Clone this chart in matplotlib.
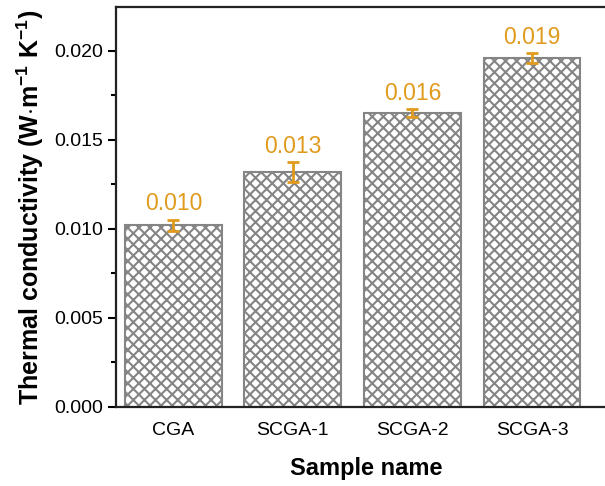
import matplotlib
matplotlib.use('Agg')
import matplotlib.pyplot as plt
from matplotlib.ticker import MultipleLocator, FormatStrFormatter

plt.rcParams['font.family'] = ['Liberation Sans', 'DejaVu Sans']
plt.rcParams['mathtext.fontset'] = 'custom'
plt.rcParams['mathtext.rm'] = 'Liberation Sans:bold'
plt.rcParams['mathtext.bf'] = 'Liberation Sans:bold'
plt.rcParams['mathtext.it'] = 'Liberation Sans:bold'
plt.rcParams['hatch.linewidth'] = 1.5

samples = ['CGA', 'SCGA-1', 'SCGA-2', 'SCGA-3']
conductivity = [0.0102, 0.0132, 0.0165, 0.0196]
errors = [0.00033, 0.00055, 0.00022, 0.00030]
value_labels = ['0.010', '0.013', '0.016', '0.019']

ORANGE = '#E09A1C'
GRAY = '#858585'

fig = plt.figure(figsize=(6.05, 4.86), dpi=100)
ax = fig.add_axes([0.1917, 0.1626, 0.826, 0.823])

x = range(len(samples))
ax.bar(x, conductivity, width=0.81, color='white', edgecolor=GRAY,
       linewidth=1.5, hatch='xxx', zorder=2)
ax.errorbar(x, conductivity, yerr=errors, fmt='none', ecolor=ORANGE,
            elinewidth=2, capsize=4, capthick=2, zorder=3)
for xi, v, e, lab in zip(x, conductivity, errors, value_labels):
    ax.annotate(lab, (xi, v + e), xytext=(0, 3), textcoords='offset points',
                ha='center', va='bottom', color=ORANGE, fontsize=16.5)

ax.set_xlim(-0.48, 3.7)
ax.set_ylim(0, 0.02247)
ax.set_xticks(list(x))
ax.set_xticklabels(samples)
ax.yaxis.set_major_locator(MultipleLocator(0.005))
ax.yaxis.set_minor_locator(MultipleLocator(0.0025))
ax.yaxis.set_major_formatter(FormatStrFormatter('%.3f'))

ax.tick_params(axis='x', length=0, labelsize=14, pad=11)
ax.tick_params(axis='y', which='major', length=6, width=1.5, labelsize=14, direction='out')
ax.tick_params(axis='y', which='minor', length=3.5, width=1.5, direction='out')
for s in ax.spines.values():
    s.set_linewidth(1.6)
    s.set_color('#222222')

ax.set_xlabel('Sample name', fontsize=17, fontweight='bold', labelpad=13)
ax.set_ylabel(r'Thermal conductivity (W$\cdot$m$^{-1}$ K$^{-1}$)',
              fontsize=18, fontweight='bold', labelpad=6)

fig.savefig('out.png', dpi=100)
